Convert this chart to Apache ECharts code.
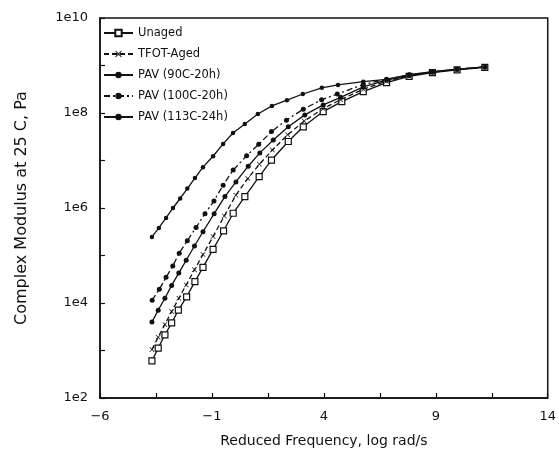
<!DOCTYPE html>
<html>
<head>
<meta charset="utf-8">
<script src="https://cdn.jsdelivr.net/npm/echarts@6/dist/echarts.min.js"></script>
<style>html,body{margin:0;padding:0;background:#fff;}#c{width:559px;height:460px;}</style>
</head>
<body>
<div id="c"></div>
<script>
// Reduced frequency (log rad/s) and log10 of complex modulus (Pa)
const seriesNames = ['Unaged', 'TFOT-Aged', 'PAV (90C-20h)', 'PAV (100C-20h)', 'PAV (113C-24h)'];

const unaged = [[-3.68,2.78],[-3.40,3.05],[-3.10,3.33],[-2.80,3.58],[-2.50,3.85],[-2.13,4.13],[-1.76,4.45],[-1.40,4.75],[-0.95,5.13],[-0.48,5.52],[-0.05,5.89],[0.47,6.24],[1.11,6.66],[1.66,7.01],[2.41,7.40],[3.08,7.71],[3.97,8.03],[4.80,8.24],[5.76,8.45],[6.80,8.64],[7.81,8.77],[8.85,8.85],[9.95,8.91],[11.19,8.96]];

const tfotAged = [[-3.68,3.02],[-3.40,3.28],[-3.10,3.55],[-2.80,3.82],[-2.48,4.10],[-2.15,4.38],[-1.78,4.70],[-1.40,5.02],[-0.95,5.40],[-0.45,5.83],[0.07,6.27],[0.60,6.62],[1.12,6.92],[1.70,7.22],[2.38,7.54],[3.12,7.83],[3.97,8.09],[4.75,8.28],[5.76,8.50],[6.80,8.67],[7.81,8.78],[8.85,8.86],[9.95,8.92],[11.19,8.97]];

const pav90 = [[-3.68,3.60],[-3.40,3.85],[-3.10,4.10],[-2.80,4.37],[-2.48,4.63],[-2.15,4.90],[-1.78,5.20],[-1.40,5.50],[-0.90,5.88],[-0.42,6.24],[0.07,6.55],[0.62,6.88],[1.14,7.16],[1.74,7.43],[2.41,7.71],[3.15,7.96],[3.97,8.17],[4.75,8.33],[5.76,8.55],[6.80,8.69],[7.81,8.79],[8.85,8.86],[9.95,8.92],[11.19,8.97]];

const pav100 = [[-3.67,4.06],[-3.35,4.29],[-3.05,4.54],[-2.75,4.78],[-2.46,5.05],[-2.10,5.31],[-1.71,5.59],[-1.31,5.88],[-0.91,6.15],[-0.50,6.48],[-0.05,6.80],[0.55,7.10],[1.09,7.34],[1.66,7.61],[2.33,7.85],[3.08,8.08],[3.90,8.28],[4.60,8.40],[5.76,8.60],[6.80,8.71],[7.81,8.80],[8.85,8.87],[9.95,8.92],[11.19,8.97]];

const pav113 = [[-3.68,5.39],[-3.37,5.58],[-3.05,5.79],[-2.74,6.00],[-2.42,6.20],[-2.10,6.41],[-1.76,6.63],[-1.40,6.86],[-0.95,7.09],[-0.50,7.35],[-0.06,7.58],[0.47,7.77],[1.05,7.98],[1.68,8.15],[2.35,8.27],[3.06,8.40],[3.91,8.53],[4.63,8.59],[5.76,8.66],[6.80,8.71],[7.81,8.81],[8.85,8.87],[9.95,8.92],[11.19,8.97]];

const xTicks = [-6, -1, 4, 9, 14];
const yTickExponents = [2, 4, 6, 8, 10];

const FONT = 'DejaVu Sans';
const INK = '#111';
const xCross = 'path://M0,1 L1,0 L5,4 L9,0 L10,1 L6,5 L10,9 L9,10 L5,6 L1,10 L0,9 L4,5 Z';

const chart = echarts.init(document.getElementById('c'), null, {renderer: 'canvas'});

function mk(name, data, symbol, size, lineType, empty) {
  return {
    name: name, type: 'line', data: data,
    symbol: symbol, symbolSize: size, showSymbol: true,
    lineStyle: {color: INK, width: 1.3, type: lineType},
    itemStyle: empty ? {color: '#fff', borderColor: INK, borderWidth: 1.2} : {color: INK, borderColor: INK, borderWidth: 0},
    emphasis: {disabled: true},
    animation: false,
    z: 3
  };
}

chart.setOption({
  backgroundColor: '#fff',
  animation: false,
  grid: {left: 100, right: 11, top: 18, bottom: 62, show: true, borderColor: INK, borderWidth: 1.5, backgroundColor: 'transparent'},
  legend: {
    show: true, orient: 'vertical', left: 98, top: 22,
    itemWidth: 29, itemHeight: 8, itemGap: 9,
    textStyle: {fontFamily: FONT, fontSize: 11.5, color: INK, lineHeight: 12},
    data: seriesNames
  },
  xAxis: {
    type: 'value', min: xTicks[0], max: xTicks[xTicks.length - 1], interval: 5,
    name: 'Reduced Frequency, log rad/s', nameLocation: 'middle', nameGap: 36,
    nameTextStyle: {fontFamily: FONT, fontSize: 14, color: INK},
    axisLine: {show: true, onZero: false, lineStyle: {color: INK, width: 1.5}},
    axisTick: {show: true, inside: true, length: 5, lineStyle: {color: INK, width: 1.2}},
    minorTick: {show: true, splitNumber: 2, length: 5, lineStyle: {color: INK, width: 1.2}},
    axisLabel: {fontFamily: FONT, fontSize: 13, color: INK, margin: 12, formatter: v => (v < 0 ? '\u2212' + Math.abs(v) : String(v))},
    splitLine: {show: false}
  },
  yAxis: {
    type: 'value', min: yTickExponents[0], max: yTickExponents[yTickExponents.length - 1], interval: 2,
    name: 'Complex Modulus at 25 C, Pa', nameLocation: 'middle', nameGap: 70, nameRotate: 90,
    nameTextStyle: {fontFamily: FONT, fontSize: 16, color: INK},
    axisLine: {show: true, onZero: false, lineStyle: {color: INK, width: 1.5}},
    axisTick: {show: true, inside: true, length: 5, lineStyle: {color: INK, width: 1.2}},
    minorTick: {show: true, splitNumber: 2, length: 5, lineStyle: {color: INK, width: 1.2}},
    axisLabel: {fontFamily: FONT, fontSize: 13, color: INK, margin: 12, formatter: v => '1e' + v},
    splitLine: {show: false}
  },
  series: [
    mk(seriesNames[0], unaged, 'rect', 6, 'solid', true),
    mk(seriesNames[1], tfotAged, xCross, 5, [5, 3], false),
    mk(seriesNames[2], pav90, 'circle', 5, 'solid', false),
    mk(seriesNames[3], pav100, 'circle', 5, [6, 3, 2, 3], false),
    mk(seriesNames[4], pav113, 'circle', 4.5, 'solid', false)
  ]
});
</script>
</body>
</html>
